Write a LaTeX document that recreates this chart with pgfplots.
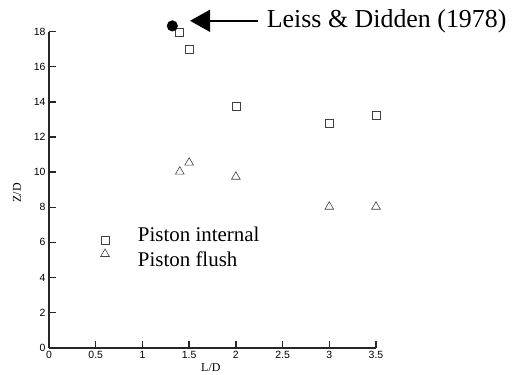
\documentclass[border=0pt]{standalone}
\usepackage{pgfplots}
\pgfplotsset{compat=1.18}
\usepackage{fontspec}
\setmainfont{Liberation Serif}
\newfontfamily\arial{Liberation Sans}
\usetikzlibrary{arrows.meta}

\begin{document}
\begin{tikzpicture}
\useasboundingbox (0,0) rectangle (516bp,375bp);
\begin{axis}[
  at={(49bp,27.3bp)}, anchor=south west,
  scale only axis, width=327bp, height=316bp,
  xmin=0, xmax=3.5, ymin=0, ymax=18,
  axis lines*=left,
  axis line style={line width=1.8bp, black!85},
  xtick={0,0.5,1,1.5,2,2.5,3,3.5},
  ytick={0,2,4,6,8,10,12,14,16,18},
  tick align=inside, major tick length=7bp,
  tick style={line width=1.3bp, black!85},
  ticklabel style={font=\arial\fontsize{10.5}{12}\selectfont},
  /pgf/number format/assume math mode=true,
  xlabel={L/D}, ylabel={Z/D},
  label style={font=\fontsize{12}{14}\selectfont},
  xlabel style={at={(axis description cs:0.495,-0.064)}, anchor=center},
  ylabel style={at={(axis description cs:-0.098,0.49)}, anchor=center},
  clip=false,
]
% Piston internal
\addplot[only marks, mark=square, mark size=4bp, black!75, mark options={line width=0.6bp}]
  coordinates {(1.4,17.97) (1.5,17.02) (2.0,13.73) (3.0,12.79) (3.5,13.22)};
% Piston flush
\addplot[only marks, mark=triangle, mark size=5bp, black!75, mark options={line width=0.6bp}]
  coordinates {(1.4,10.03) (1.5,10.54) (2.0,9.74) (3.0,8.03) (3.5,8.03)};
% Leiss & Didden (1978)
\addplot[only marks, mark=*, mark size=5.3bp, black] coordinates {(1.32,18.33)};
\draw[line width=1.6bp, -{Triangle[length=20bp,width=22bp]}]
  (axis cs:2.24,18.62) -- (axis cs:1.51,18.62);
\node[anchor=west, inner sep=0pt, font=\fontsize{26}{30}\selectfont]
  at (axis cs:2.33,18.62) {Leiss \& Didden (1978)};
% key
\addplot[only marks, mark=square, mark size=4bp, black!75, mark options={line width=0.6bp}]
  coordinates {(0.6,6.1)};
\addplot[only marks, mark=triangle, mark size=5bp, black!75, mark options={line width=0.6bp}]
  coordinates {(0.6,5.34)};
\node[anchor=west, inner sep=0pt, font=\fontsize{21}{25}\selectfont]
  at (axis cs:0.95,6.48) {Piston internal};
\node[anchor=west, inner sep=0pt, font=\fontsize{21}{25}\selectfont]
  at (axis cs:0.95,5.04) {Piston flush};
\end{axis}
\end{tikzpicture}
\end{document}
